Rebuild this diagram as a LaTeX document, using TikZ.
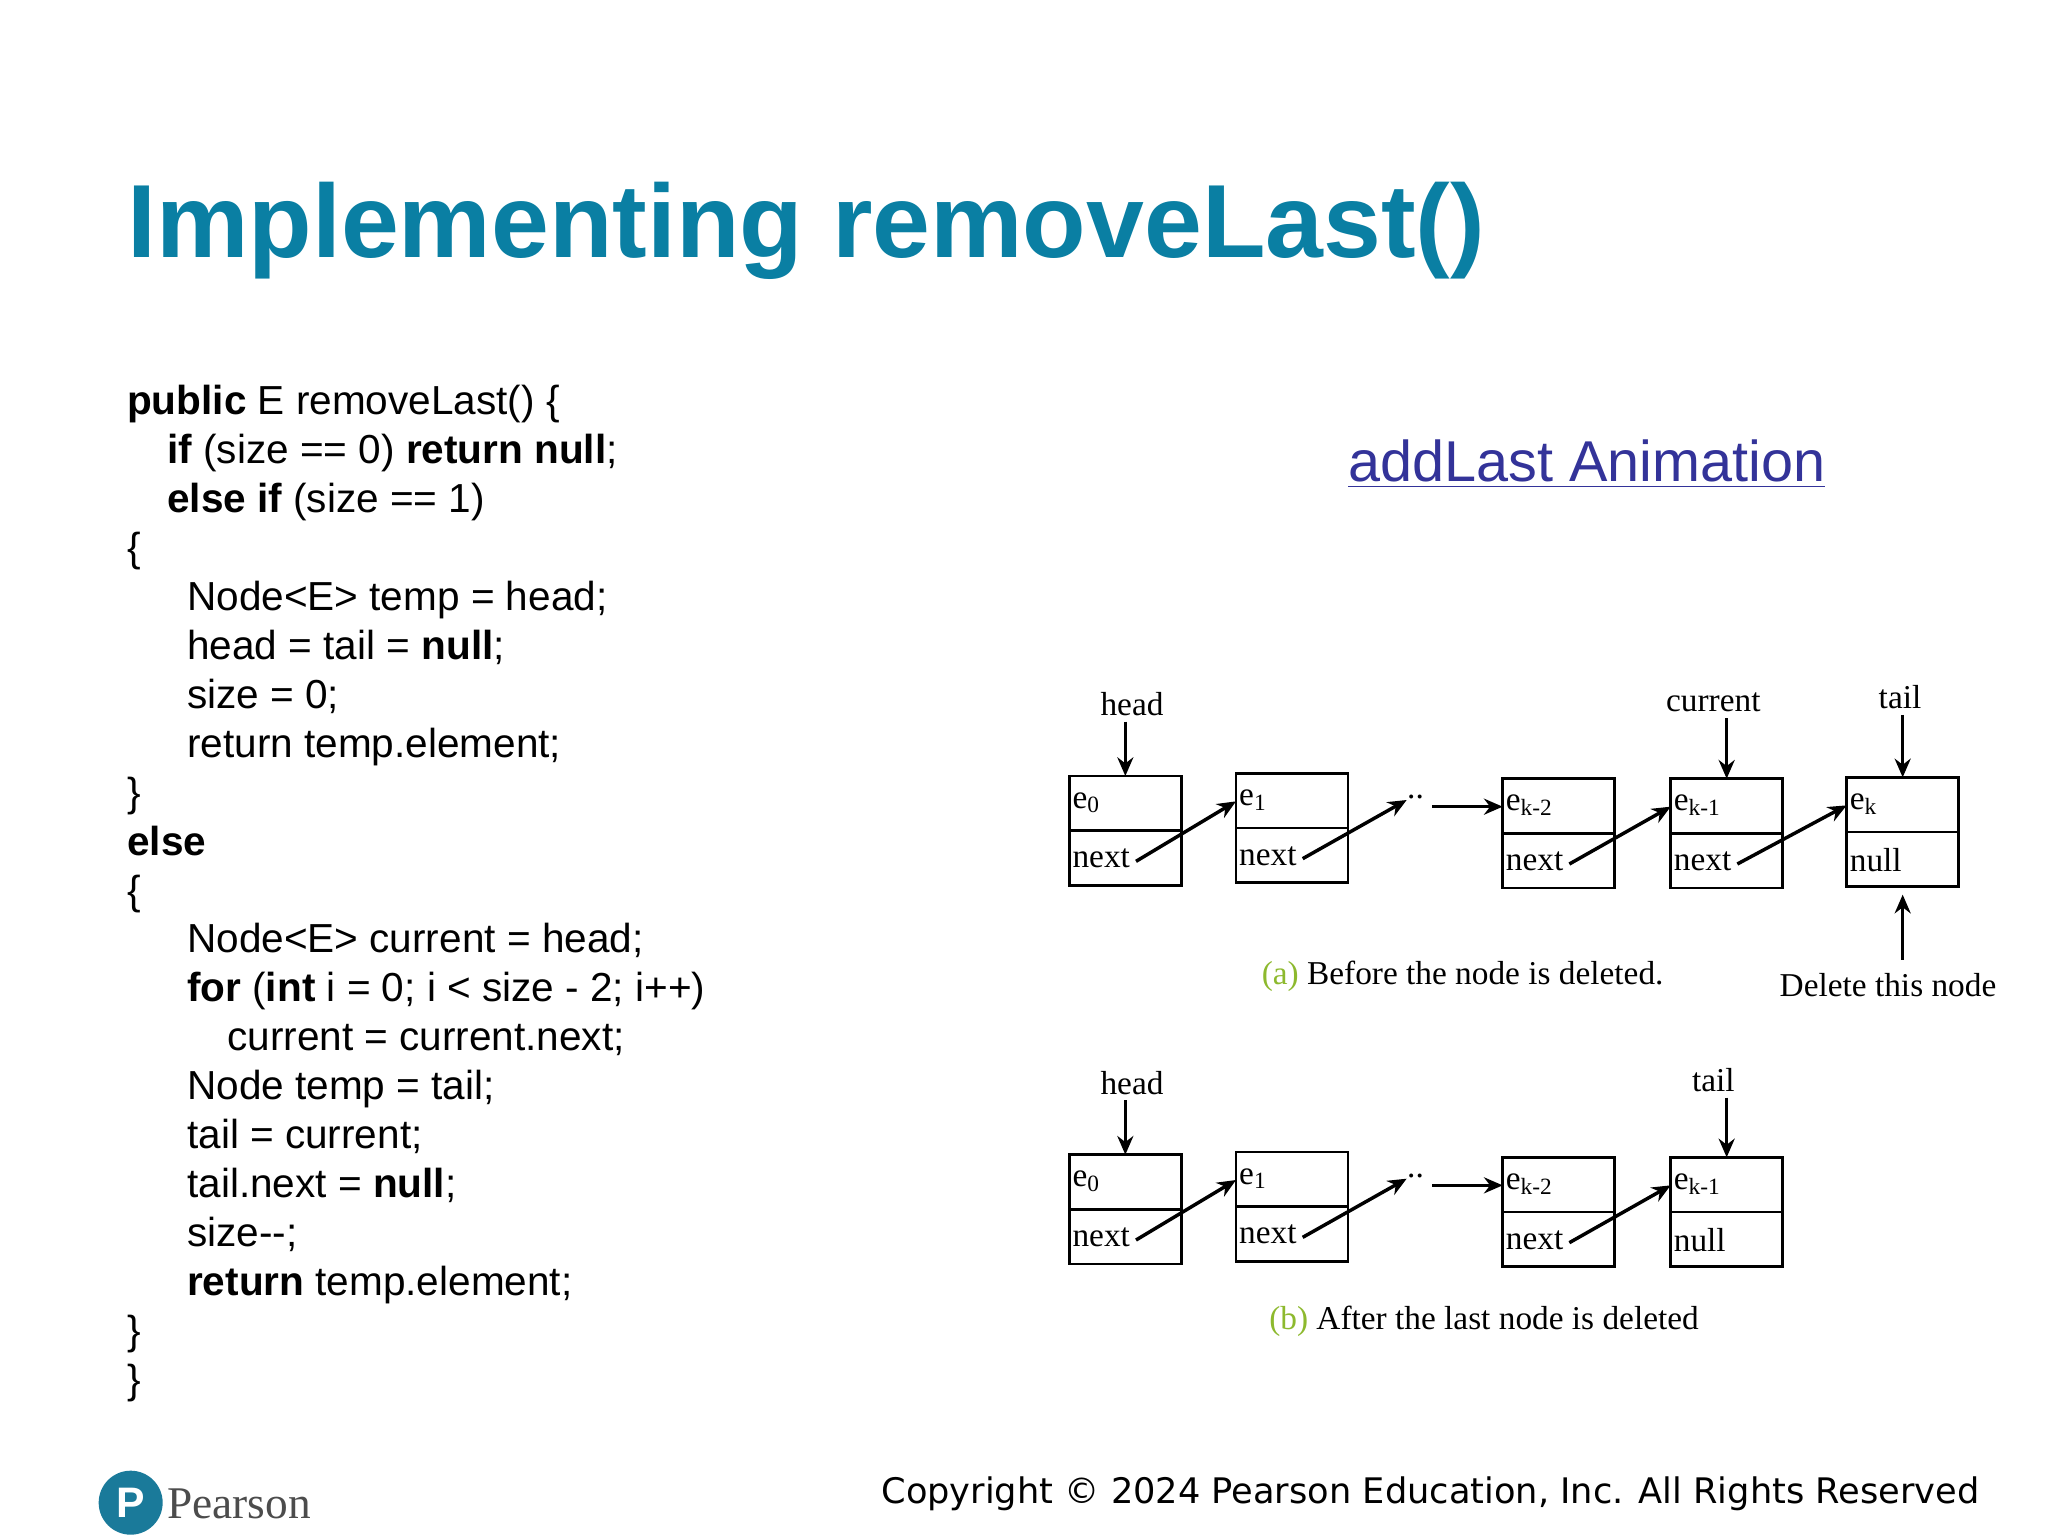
\documentclass[tikz,border=0pt]{standalone}
\usepackage{fontspec}
\setmainfont{Liberation Serif}
\newfontfamily\arialf{Liberation Sans}
\newfontfamily\dejaf{DejaVu Sans}
\usetikzlibrary{arrows.meta}
\definecolor{titleblue}{HTML}{0A7FA3}
\definecolor{linkblue}{HTML}{333399}
\definecolor{capgreen}{HTML}{8DB92E}
\definecolor{pteal}{HTML}{1A7A9A}
\tikzset{
 code/.style={anchor=base west,inner sep=0,font=\arialf\fontsize{15.2}{18}\selectfont},
 cell/.style={draw,line width=1.1pt,minimum width=42pt,minimum height=41pt,inner sep=0,outer sep=0},
 lbl/.style={anchor=west,inner sep=1pt,font=\fontsize{12.5}{14}\selectfont},
 tlbl/.style={inner sep=0,font=\fontsize{12.5}{14}\selectfont},
 ptr/.style={-{Stealth[length=7pt,width=6pt]},line width=1.3pt},
}
\begin{document}
\begin{tikzpicture}[x=0.5pt,y=-0.5pt]
\useasboundingbox (0,0) rectangle (1536,1152);
\node[anchor=base west,inner sep=0,text=titleblue,font=\arialf\bfseries\fontsize{39}{44}\selectfont] (title) at (95,193) {Implementing removeLast()};
% code
\foreach \i/\x/\t in {0/95/{\textbf{public} E removeLast() \{},
 1/125/{\textbf{if} (size == 0) \textbf{return null};},
 2/125/{\textbf{else if} (size == 1)},
 3/95/{\{},
 4/140/{Node<E> temp = head;},
 5/140/{head = tail = \textbf{null};},
 6/140/{size = 0;},
 7/140/{return temp.element;},
 8/95/{\}},
 9/95/{\textbf{else}},
 10/95/{\{},
 11/140/{Node<E> current = head;},
 12/140/{\textbf{for} (\textbf{int} i = 0; i < size - 2; i++)},
 13/170/{current = current.next;},
 14/140/{Node temp = tail;},
 15/140/{tail = current;},
 16/140/{tail.next = \textbf{null};},
 17/140/{size-{}-;},
 18/140/{\textbf{return} temp.element;},
 19/95/{\}},
 20/95/{\}}}
 {\node[code] (c\i) at (\x,{311+36.7*\i}) {\t};}
\node[inner sep=0,text=linkblue,font=\arialf\fontsize{21.6}{24}\selectfont] (link) at (1190,348) {\underline{addLast Animation}};
% boxes
\foreach \n/\x/\y/\top/\bot in {a0/802/582/{e\textsubscript{0}}/next, a1/927/580/{e\textsubscript{1}}/next,
 a2/1127/584/{e\textsubscript{k-2}}/next, a3/1253/584/{e\textsubscript{k-1}}/next, a4/1385/583/{e\textsubscript{k}}/null,
 b0/802/866/{e\textsubscript{0}}/next, b1/927/864/{e\textsubscript{1}}/next,
 b2/1127/868/{e\textsubscript{k-2}}/next, b3/1253/868/{e\textsubscript{k-1}}/null}{
 \node[cell,anchor=north west] (\n) at (\x,\y) {};
 \draw[line width=1.1pt] ([yshift=-20.5pt]\n.north west) -- ([yshift=-20.5pt]\n.north east);
 \node[lbl] (\n tl) at ([yshift=-10pt]\n.north west) {\top};
 \node[lbl] (\n bl) at ([yshift=10pt]\n.south west) {\bot};
 \coordinate (\n s) at ([xshift=25pt,yshift=9pt]\n.south west);
 \coordinate (\n in) at ([yshift=10pt]\n.west);
}
\foreach \r in {a,b}{
 \draw[ptr] (\r0s) -- (\r1in);
 \draw[ptr] (\r1s) -- ++(78,-44) coordinate (\r d);
 \node[tlbl,anchor=west] (\r dots) at ([yshift=1pt]\r d) {..};
 \draw[ptr] (\r dots.east |- \r2in) ++(6,0) -- (\r2in);
 \draw[ptr] (\r2s) -- (\r3in);
}
\draw[ptr] (a3s) -- (a4in);
% labels (a)
\node[tlbl] (ha) at (849,528) {head};
\draw[ptr] ([yshift=-2pt]ha.south -| a0.north) -- (a0.north);
\node[tlbl] (cu) at (1285,527) {current};
\draw[ptr] ([yshift=-2pt]cu.south -| a3.north) -- (a3.north);
\node[tlbl] (ta) at (1425,523) {tail};
\draw[ptr] ([yshift=-2pt]ta.south -| a4.north) -- (a4.north);
\node[tlbl] (del) at (1416,739) {Delete this node};
\draw[ptr] ([yshift=5pt]del.north -| a4.south) -- ([yshift=-3pt]a4.south);
\node[tlbl] (capa) at (1097,732) {\textcolor{capgreen}{(a)} Before the node is deleted.};
% labels (b)
\node[tlbl] (hb) at (849,812) {head};
\draw[ptr] ([yshift=-2pt]hb.south -| b0.north) -- (b0.north);
\node[tlbl] (tb) at (1285,810) {tail};
\draw[ptr] ([yshift=-2pt]tb.south -| b3.north) -- (b3.north);
\node[tlbl] (capb) at (1113,991) {\textcolor{capgreen}{(b)} After the last node is deleted};
% footer
\node[inner sep=0,anchor=east,font=\dejaf\fontsize{13.2}{15}\selectfont] (copy) at (1485,1120) {Copyright © 2024 Pearson Education, Inc. All Rights Reserved};
\node[circle,fill=pteal,minimum size=24pt,inner sep=0,text=white,font=\arialf\bfseries\fontsize{16}{16}\selectfont] (plogo) at (98,1127) {P};
\node[inner sep=0,anchor=west,text=black!70,font=\fontsize{17}{18}\selectfont] (pname) at (125,1128) {Pearson};
\end{tikzpicture}
\end{document}
